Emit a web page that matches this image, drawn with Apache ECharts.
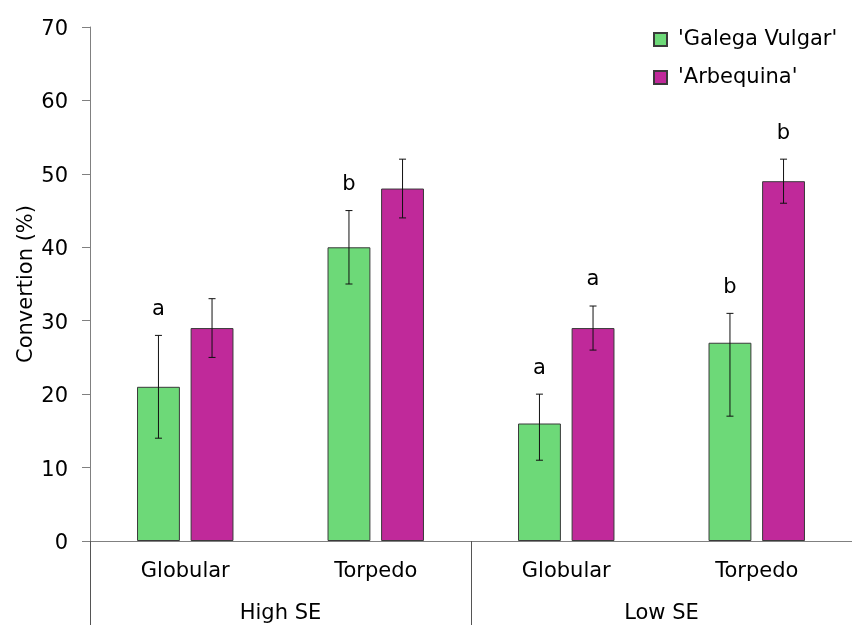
<!DOCTYPE html>
<html>
<head>
<meta charset="utf-8">
<script src="https://cdn.jsdelivr.net/npm/echarts@6/dist/echarts.min.js"></script>
<style>
html,body{margin:0;padding:0;background:#fff;}
#chart{width:852px;height:625px;}
</style>
</head>
<body>
<div id="chart"></div>
<script>
const categories = ['Globular', 'Torpedo', 'Globular', 'Torpedo'];
const groups = ['High SE', 'Low SE'];
const seriesNames = ["'Galega Vulgar'", "'Arbequina'"];
const galegaValues = [21, 40, 16, 27];
const galegaLow = [14, 35, 11, 17];
const galegaHigh = [28, 45, 20, 31];
const arbequinaValues = [29, 48, 29, 49];
const arbequinaLow = [25, 44, 26, 46];
const arbequinaHigh = [33, 52, 32, 52];
const galegaLetters = ['a', 'b', 'a', 'b'];
const arbequinaLetters = ['', '', 'a', 'b'];
const yMin = 0, yMax = 70, yStep = 10;

const FONT = "'DejaVu Sans', sans-serif";
const FS = 21;
const green = '#6DD978';
const purple = '#C0299A';
const barWidthFrac = 0.225;
const barGapFrac = 0.25;

function errData(low, high) {
  return categories.map((c, i) => [i, low[i], high[i]]);
}

function makeErr(name, low, high, letters, sign) {
  return {
    type: 'custom',
    name: name + ' err',
    xAxisIndex: 0,
    yAxisIndex: 0,
    z: 10,
    silent: true,
    encode: { x: 0, y: [1, 2] },
    data: errData(low, high),
    renderItem: function (params, api) {
      const i = api.value(0);
      const bw = api.size([1, 0])[0];
      const off = sign * bw * barWidthFrac * (1 + barGapFrac) / 2;
      const pLow = api.coord([i, api.value(1)]);
      const pHigh = api.coord([i, api.value(2)]);
      const x = pLow[0] + off;
      const cap = 3.5;
      const st = { stroke: '#111', lineWidth: 1 };
      const children = [
        { type: 'line', shape: { x1: x, y1: pLow[1], x2: x, y2: pHigh[1] }, style: st },
        { type: 'line', shape: { x1: x - cap, y1: pLow[1], x2: x + cap, y2: pLow[1] }, style: st },
        { type: 'line', shape: { x1: x - cap, y1: pHigh[1], x2: x + cap, y2: pHigh[1] }, style: st }
      ];
      const letter = letters[params.dataIndex];
      if (letter) {
        children.push({
          type: 'text',
          style: {
            text: letter, x: x, y: pHigh[1] - 26,
            align: 'center', verticalAlign: 'middle',
            font: FS + 'px ' + FONT, fill: '#000'
          }
        });
      }
      return { type: 'group', children: children };
    }
  };
}

const chart = echarts.init(document.getElementById('chart'), null, { renderer: 'canvas' });
chart.setOption({
  animation: false,
  backgroundColor: '#fff',
  textStyle: { fontFamily: FONT },
  grid: { left: 90, top: 27, width: 764, height: 514, containLabel: false },
  legend: {
    orient: 'vertical',
    left: 653,
    top: 29,
    padding: 0,
    itemWidth: 13,
    itemHeight: 13,
    itemGap: 17,
    icon: 'rect',
    data: seriesNames,
    textStyle: { fontSize: FS, color: '#000', fontFamily: FONT, padding: [0, 0, 0, 6] }
  },
  xAxis: [
    {
      type: 'category',
      data: categories,
      position: 'bottom',
      axisLine: { show: true, lineStyle: { color: '#808080', width: 1 } },
      axisTick: { show: false },
      axisLabel: { fontSize: FS, color: '#000', margin: 20, fontFamily: FONT }
    },
    {
      type: 'category',
      data: groups,
      position: 'bottom',
      offset: 0,
      axisLine: { show: false },
      axisTick: { show: true, length: 84, lineStyle: { color: '#555', width: 1 } },
      axisLabel: { fontSize: FS, color: '#000', margin: 62, fontFamily: FONT }
    }
  ],
  yAxis: {
    type: 'value',
    min: yMin,
    max: yMax,
    interval: yStep,
    name: 'Convertion (%)',
    nameLocation: 'middle',
    nameGap: 53,
    nameMoveOverlap: false,
    nameTextStyle: { fontSize: FS, color: '#000', fontFamily: FONT },
    axisLine: { show: true, lineStyle: { color: '#808080', width: 1 } },
    axisTick: { show: true, length: 8, lineStyle: { color: '#808080' } },
    splitLine: { show: false },
    axisLabel: {
      fontSize: FS, color: '#000', margin: 22, fontFamily: FONT,
      formatter: function (v) { return '{v|' + v + '}'; },
      rich: { v: { fontSize: FS, color: '#000', fontFamily: FONT, padding: [5, 0, 0, 0] } }
    }
  },
  series: [
    {
      type: 'bar',
      name: seriesNames[0],
      data: galegaValues,
      barWidth: (barWidthFrac * 100) + '%',
      barGap: (barGapFrac * 100) + '%',
      itemStyle: { color: green, borderColor: '#3a3a3a', borderWidth: 1 }
    },
    {
      type: 'bar',
      name: seriesNames[1],
      data: arbequinaValues,
      barWidth: (barWidthFrac * 100) + '%',
      barGap: (barGapFrac * 100) + '%',
      itemStyle: { color: purple, borderColor: '#3a3a3a', borderWidth: 1 }
    },
    makeErr(seriesNames[0], galegaLow, galegaHigh, galegaLetters, -1),
    makeErr(seriesNames[1], arbequinaLow, arbequinaHigh, arbequinaLetters, 1)
  ]
});
</script>
</body>
</html>
